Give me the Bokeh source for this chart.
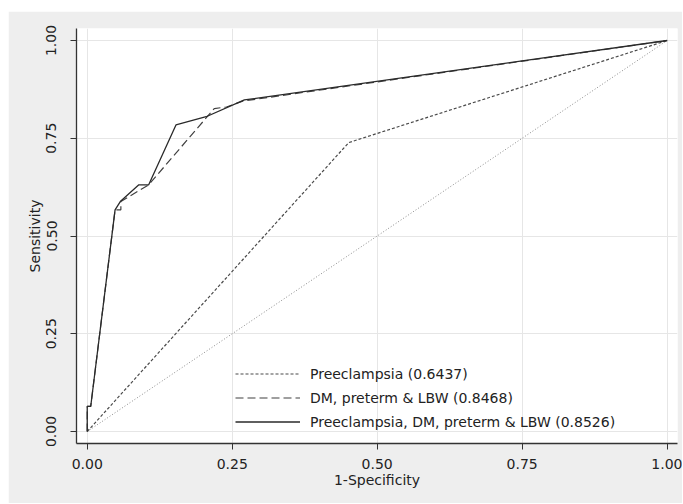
from bokeh.plotting import figure
from bokeh.models import FixedTicker, Range1d, Legend, LegendItem
from bokeh.embed import file_html
from bokeh.resources import INLINE

# ---- data ----
ref_x = [0.0, 1.0]
ref_y = [0.0, 1.0]

pre_fpr = [0.0, 0.451, 1.0]
pre_tpr = [0.0, 0.739, 1.0]

dm_fpr = [0.0, 0.0, 0.006, 0.048, 0.058, 0.058, 0.106, 0.219, 0.240, 0.268, 1.0]
dm_tpr = [0.0, 0.064, 0.064, 0.567, 0.567, 0.588, 0.631, 0.826, 0.830, 0.845, 1.0]

all_fpr = [0.0, 0.0, 0.006, 0.048, 0.057, 0.089, 0.106, 0.153, 0.205, 0.271, 1.0]
all_tpr = [0.0, 0.064, 0.064, 0.567, 0.588, 0.631, 0.631, 0.784, 0.805, 0.848, 1.0]

tick_values = [0.0, 0.25, 0.5, 0.75, 1.0]
tick_labels = ["0.00", "0.25", "0.50", "0.75", "1.00"]

series_labels = ["Preeclampsia (0.6437)",
                 "DM, preterm & LBW (0.8468)",
                 "Preeclampsia, DM, preterm & LBW (0.8526)"]

FONT = "DejaVu Sans"
BG = "#eeeeee"
TXT = "#222222"

p = figure(width=674, height=492, output_backend="svg", toolbar_location=None,
           x_range=Range1d(-0.0185, 1.0178), y_range=Range1d(-0.0307, 1.0307),
           min_border_left=68, min_border_top=17, min_border_right=5,
           min_border_bottom=60)
p.margin = (11, 0, 0, 8)
p.border_fill_color = BG
p.background_fill_color = "white"
p.outline_line_color = None

r_ref = p.line(ref_x, ref_y, line_color="#8a8a8a", line_width=1, line_dash="1 2")
r_pre = p.line(pre_fpr, pre_tpr, line_color="#4a4a4a", line_width=1.2, line_dash="3 2")
r_dm = p.line(dm_fpr, dm_tpr, line_color="#404040", line_width=1.2, line_dash="8 4")
r_all = p.line(all_fpr, all_tpr, line_color="#2a2a2a", line_width=1.3)

ticks = FixedTicker(ticks=tick_values)
overrides = {v: t for v, t in zip(tick_values, tick_labels)}
for ax in (p.xaxis[0], p.yaxis[0]):
    ax.ticker = ticks
    ax.major_label_overrides = overrides
    ax.minor_tick_line_color = None
    ax.axis_line_color = "#333333"
    ax.axis_line_width = 1.3
    ax.major_tick_line_color = "#333333"
    ax.major_tick_in = 0
    ax.major_tick_out = 6
    ax.major_label_text_font = FONT
    ax.major_label_text_font_size = "14px"
    ax.major_label_text_color = TXT
    ax.axis_label_text_font = FONT
    ax.axis_label_text_font_size = "14px"
    ax.axis_label_text_font_style = "normal"
    ax.axis_label_text_color = TXT

p.xaxis.axis_label = "1-Specificity"
p.yaxis.axis_label = "Sensitivity"
p.yaxis.major_label_orientation = "vertical"
p.xaxis.major_label_standoff = 9
p.yaxis.major_label_standoff = 14
p.xaxis.axis_label_standoff = 0
p.yaxis.axis_label_standoff = 1

for g in (p.xgrid[0], p.ygrid[0]):
    g.ticker = ticks
    g.grid_line_color = "#e6e6e6"
    g.grid_line_width = 1

legend = Legend(items=[LegendItem(label=series_labels[0], renderers=[r_pre]),
                       LegendItem(label=series_labels[1], renderers=[r_dm]),
                       LegendItem(label=series_labels[2], renderers=[r_all])],
                location=(159, 11))
legend.border_line_color = None
legend.background_fill_alpha = 0
legend.padding = 0
legend.margin = 0
legend.spacing = 3
legend.glyph_width = 65
legend.glyph_height = 21
legend.label_height = 21
legend.label_standoff = 10
legend.label_text_font = FONT
legend.label_text_font_size = "14px"
legend.label_text_color = TXT
p.add_layout(legend, "center")

open("out.html", "w").write(file_html(p, INLINE))
